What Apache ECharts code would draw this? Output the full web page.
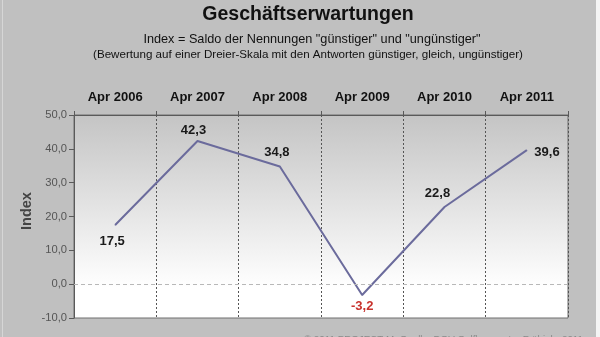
<!DOCTYPE html>
<html>
<head>
<meta charset="utf-8">
<script src="https://cdn.jsdelivr.net/npm/echarts@6/dist/echarts.min.js"></script>
<style>
  html, body { margin: 0; padding: 0; background: #c0c0c0; }
  #chart { width: 600px; height: 337px; }
</style>
</head>
<body>
<div id="chart"></div>
<script>
// Survey periods and the balance index for each spring survey
const periods = ['Apr 2006', 'Apr 2007', 'Apr 2008', 'Apr 2009', 'Apr 2010', 'Apr 2011'];
const indexValues = [17.5, 42.3, 34.8, -3.2, 22.8, 39.6];
const yTicks = { min: -10, max: 50, step: 10 };

// Label placement per point (kept separate from the values)
const labelPlacement = [
  { position: 'bottom', offset: [-3, 4] },
  { position: 'top', offset: [-4, 1] },
  { position: 'top', offset: [-3, -2] },
  { position: 'bottom', offset: [0, -1] },
  { position: 'top', offset: [-7, -2] },
  { position: 'right', offset: [2, 2] }
];

const fmt = v => v.toFixed(1).replace('.', ',');
const FONT = 'Arial, "Liberation Sans", sans-serif';
const HEAD_X = 303;

const chart = echarts.init(document.getElementById('chart'), null, { renderer: 'canvas' });

chart.setOption({
  backgroundColor: '#c0c0c0',
  animation: false,
  graphic: [
    { type: 'rect', left: 596, top: 0, shape: { width: 4, height: 337 }, style: { fill: '#f4f4f4' }, z: -10 },
    { type: 'rect', left: 2, top: 0, shape: { width: 1, height: 337 }, style: { fill: '#d6d6d6' }, z: -10 }
  ],
  title: [
    {
      text: 'Geschäftserwartungen',
      left: HEAD_X, textAlign: 'center', top: 0,
      textStyle: { fontFamily: FONT, fontSize: 19.5, fontWeight: 'bold', color: '#111' }
    },
    {
      text: 'Index = Saldo der Nennungen "günstiger" und "ungünstiger"',
      left: HEAD_X + 4, textAlign: 'center', top: 28,
      textStyle: { fontFamily: FONT, fontSize: 12.7, fontWeight: 'normal', color: '#111' }
    },
    {
      text: '(Bewertung auf einer Dreier-Skala mit den Antworten günstiger, gleich, ungünstiger)',
      left: HEAD_X, textAlign: 'center', top: 44,
      textStyle: { fontFamily: FONT, fontSize: 11.6, fontWeight: 'normal', color: '#111' }
    },
    {
      text: '© 2011 PROJECT M, Quelle: DGV Golfbarometer Frühjahr 2011',
      right: 12, top: 329,
      textStyle: { fontFamily: FONT, fontSize: 9.8, fontWeight: 'normal', color: '#8a8a8a' }
    }
  ],
  grid: {
    left: 74, right: 32, top: 115, bottom: 19,
    show: true,
    borderColor: '#6e6e6e',
    borderWidth: 1,
    backgroundColor: {
      type: 'linear', x: 0, y: 0, x2: 0, y2: 1,
      colorStops: [
        { offset: 0, color: '#c4c4c4' },
        { offset: 0.85, color: '#ffffff' },
        { offset: 1, color: '#ffffff' }
      ]
    }
  },
  xAxis: {
    type: 'category',
    position: 'top',
    data: periods,
    boundaryGap: true,
    axisLine: { show: true, onZero: false, lineStyle: { color: '#5a5a5a', width: 1 } },
    axisTick: { show: true, length: 4, inside: false, lineStyle: { color: '#5a5a5a' } },
    axisLabel: {
      margin: 11,
      fontFamily: FONT, fontSize: 13, fontWeight: 'bold', color: '#111'
    },
    splitLine: { show: true, lineStyle: { color: '#555', type: [2, 2], width: 1 } }
  },
  yAxis: {
    type: 'value',
    min: yTicks.min, max: yTicks.max, interval: yTicks.step,
    name: 'Index',
    nameLocation: 'middle',
    nameGap: 40,
    nameMoveOverlap: false,
    nameTextStyle: { fontFamily: FONT, fontSize: 14.5, fontWeight: 'bold', color: '#444', padding: [0, 0, 0, 11] },
    axisLine: { show: true, onZero: false, lineStyle: { color: '#5a5a5a', width: 1 } },
    axisTick: { show: true, length: 5, lineStyle: { color: '#5a5a5a' } },
    axisLabel: {
      margin: 7,
      formatter: v => fmt(v),
      fontFamily: FONT, fontSize: 11.2, color: '#555'
    },
    splitLine: { show: false }
  },
  series: [
    {
      type: 'line',
      data: indexValues.map((v, i) => ({
        value: v,
        label: {
          position: labelPlacement[i].position,
          offset: labelPlacement[i].offset,
          color: v < 0 ? '#c8322d' : '#1a1a1a'
        }
      })),
      symbol: 'circle',
      symbolSize: 1,
      showSymbol: true,
      itemStyle: { color: '#6b6b9c' },
      lineStyle: { color: '#6b6b9c', width: 2 },
      label: {
        show: true,
        formatter: p => fmt(p.value),
        fontFamily: FONT, fontSize: 13, fontWeight: 'bold'
      },
      markLine: {
        silent: true,
        symbol: 'none',
        label: { show: false },
        lineStyle: { color: '#b8b8b8', type: [4, 3], width: 1 },
        data: [{ yAxis: 0 }]
      },
      z: 3
    }
  ]
});
</script>
</body>
</html>
